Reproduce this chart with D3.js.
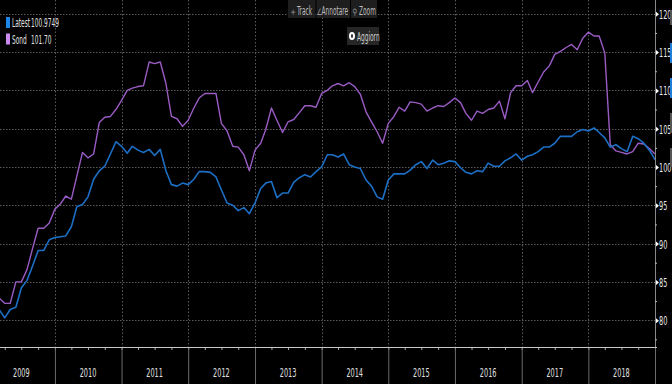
<!DOCTYPE html>
<html><head><meta charset="utf-8">
<script src="https://cdn.jsdelivr.net/npm/d3@7"></script>
<style>body{margin:0;background:#000;overflow:hidden}svg{display:block}</style>
</head><body><svg id="c" width="672" height="384"></svg>
<script>
// ---- data (monthly, Mar 2009 .. Jan 2019) ----
const startYear = 2009, startMonthIdx = 2; // March 2009
const latest = [
  81.4, 80.3, 81.4, 81.7, 84.2, 85.2, 87.1, 89.1, 89.1, 90.5,
  90.8, 90.9, 91.0, 92.2, 94.8, 95.1, 96.1, 98.4, 99.5, 100.1, 101.7, 103.3,
  102.7, 101.8, 102.7, 102.2, 101.9, 102.3, 101.5, 102.3, 99.5, 97.7, 97.5, 97.9,
  97.7, 98.4, 99.4, 99.4, 99.3, 98.7, 97.0, 95.3, 95.0, 94.3, 94.7, 93.9,
  95.3, 97.2, 97.9, 98.1, 96.0, 96.6, 96.6, 98.0, 98.6, 99.0, 98.7, 99.4,
  100.0, 101.6, 101.6, 101.3, 101.7, 100.3, 100.0, 99.8, 98.3, 97.5, 96.1, 95.8,
  98.3, 99.1, 99.1, 99.1, 99.6, 100.3, 100.7, 99.8, 100.9, 100.3, 100.5, 100.8,
  100.7, 99.9, 99.3, 99.1, 99.5, 99.4, 100.5, 100.1, 100.1, 100.8, 101.2, 101.7,
  100.9, 101.4, 101.6, 102.0, 102.6, 102.6, 103.1, 104.0, 104.0, 104.0, 104.6, 104.9,
  104.7, 105.1, 104.5, 103.8, 102.6, 102.9, 102.4, 102.0, 104.0, 103.7, 103.1, 102.2,
  100.97
];
const sond = [
  82.9, 82.2, 82.2, 85.0, 85.0, 86.6, 89.4, 92.0, 92.0, 92.7,
  94.5, 95.2, 96.2, 95.8, 98.8, 101.9, 101.2, 101.7, 105.8, 106.5, 106.6, 107.5,
  108.7, 110.0, 110.3, 110.5, 110.6, 113.7, 113.5, 113.7, 110.9, 106.6, 106.3, 105.3,
  106.1, 107.7, 109.0, 109.6, 109.6, 109.6, 105.7, 104.7, 102.7, 102.6, 101.6, 99.5,
  102.2, 103.1, 104.9, 107.7, 106.1, 104.5, 105.9, 106.2, 107.1, 108.0, 108.0, 107.8,
  109.6, 110.0, 110.6, 110.9, 110.6, 111.0, 110.5, 109.5, 107.2, 105.9, 104.6, 103.1,
  105.7, 106.6, 107.8, 107.3, 108.5, 108.4, 108.2, 107.3, 107.7, 108.0, 107.9, 108.4,
  109.0, 108.4, 107.0, 106.1, 107.3, 107.0, 107.5, 107.7, 108.6, 106.3, 109.7, 110.6,
  110.6, 111.3, 109.7, 111.1, 112.4, 113.2, 114.7, 115.1, 115.6, 116.0, 115.3, 116.8,
  117.6, 117.1, 117.1, 114.9, 102.9, 102.1, 101.9, 101.7, 102.0, 103.1, 103.0, 102.4,
  101.70
];
const yTicks = [80, 85, 90, 95, 100, 105, 110, 115, 120];
const yMinor = [77.5, 82.5, 87.5, 92.5, 97.5, 102.5, 107.5, 112.5, 117.5];
const years = [2009, 2010, 2011, 2012, 2013, 2014, 2015, 2016, 2017, 2018];
const legendItems = [
  {name: "Latest", value: "100.9749", color: "#1b86e6"},
  {name: "Sond", value: "101.70", color: "#c98af0"}
];
const toolbar = ["Track", "Annotare", "Zoom"];

// ---- layout ----
const W = 672, H = 384, plotR = 655, axisY = 347;
const FONT = "'Liberation Sans Narrow','DejaVu Sans Condensed',Arial,sans-serif";
const SX = 0.5;

const svg = d3.select("#c");
svg.append("rect").attr("width", W).attr("height", H).attr("fill", "#000");

const x = d3.scaleTime()
  .domain([new Date(2009, 0, 1), new Date(2019, 0, 1)])
  .range([-11.7, plotR]);
const y = d3.scaleLinear().domain([76.5, 121.8]).range([axisY, 0]);

const dates = latest.map((_, i) => new Date(startYear, startMonthIdx + i, 1));

// grid horizontal
svg.append("g").selectAll("line").data(yTicks).join("line")
  .attr("x1", 0).attr("x2", plotR)
  .attr("y1", d => Math.round(y(d)) + 0.5).attr("y2", d => Math.round(y(d)) + 0.5)
  .attr("stroke", "#5a5a5a").attr("stroke-width", 1).attr("stroke-dasharray", "1.5,1.5");

// grid vertical (year boundaries)
const yearStarts = years.slice(1).map(yr => new Date(yr, 0, 1));
svg.append("g").selectAll("line").data(yearStarts).join("line")
  .attr("x1", d => Math.round(x(d)) + 0.5).attr("x2", d => Math.round(x(d)) + 0.5)
  .attr("y1", 0).attr("y2", axisY)
  .attr("stroke", "#5a5a5a").attr("stroke-width", 1).attr("stroke-dasharray", "1.5,2");

// toolbar
const tb = [{icon: "+", x0: 288, x1: 315.5, tx: 297, ix: 290.5},
            {icon: "\u2220", x0: 316.5, x1: 350, tx: 321.5, ix: 316.5},
            {icon: "\u26B2", x0: 351, x1: 377, tx: 359, ix: 352.5}];
tb.forEach((d, i) => { d.t = toolbar[i]; });
const tbg = svg.append("g");
tbg.selectAll("rect").data(tb).join("rect")
  .attr("x", d => d.x0).attr("y", -2).attr("width", d => d.x1 - d.x0).attr("height", 20)
  .attr("fill", "#1e1e1e");
tbg.selectAll("text.t").data(tb).join("text").attr("class", "t")
  .attr("transform", d => `translate(${d.tx},15) scale(${SX},1)`)
  .attr("font-family", FONT).attr("font-size", 13).attr("fill", "#bdbdbd").text(d => d.t);
tbg.selectAll("text.i").data(tb).join("text").attr("class", "i")
  .attr("transform", d => `translate(${d.ix},15) scale(0.7,1)`)
  .attr("font-family", "DejaVu Sans").attr("font-size", 9).attr("fill", "#9a9a9a").text(d => d.icon);
// Aggiorn button
svg.append("rect").attr("x", 347).attr("y", 27).attr("width", 32).attr("height", 18).attr("fill", "#262626");
svg.append("ellipse").attr("cx", 352).attr("cy", 36).attr("rx", 2).attr("ry", 3)
  .attr("fill", "none").attr("stroke", "#fff").attr("stroke-width", 2);
svg.append("text").attr("transform", `translate(357,40.5) scale(${SX},1)`)
  .attr("font-family", FONT).attr("font-size", 13).attr("fill", "#d0d0d0").text("Aggiorn");

// lines
const line = d3.line().x((d, i) => x(dates[i])).y(d => y(d));
svg.append("path").datum(sond).attr("d", line)
  .attr("fill", "none").attr("stroke", "#9a5cc4").attr("stroke-width", 1.4).attr("stroke-linejoin", "round");
svg.append("path").datum(latest).attr("d", line)
  .attr("fill", "none").attr("stroke", "#1c6fc4").attr("stroke-width", 1.6).attr("stroke-linejoin", "round");

// legend
const lg = svg.append("g");
legendItems.forEach((d, i) => {
  const yy = 17 + i * 16.5;
  lg.append("rect").attr("x", 6).attr("y", yy).attr("width", 4).attr("height", 11).attr("fill", d.color);
  lg.append("text").attr("transform", `translate(12,${yy + 10}) scale(${SX},1)`)
    .attr("font-family", FONT).attr("font-size", 13).attr("fill", "#e0e0e0").text(d.name);
  lg.append("text").attr("transform", `translate(31,${yy + 10}) scale(${SX},1)`)
    .attr("font-family", FONT).attr("font-size", 13).attr("fill", "#e0e0e0").text(d.value);
});

// right axis
const ra = svg.append("g").attr("transform", `translate(${plotR},0)`);
ra.append("line").attr("x1", 0.5).attr("x2", 0.5).attr("y1", 0).attr("y2", H).attr("stroke", "#8a8a8a");
const minorAxis = d3.axisRight(y).tickValues(yMinor).tickSize(2).tickFormat("");
ra.append("g").call(minorAxis).call(g => {
  g.select(".domain").remove();
  g.selectAll("line").attr("stroke", "#bbb");
});
const majorAxis = d3.axisRight(y).tickValues(yTicks).tickSize(0).tickPadding(4).tickFormat(d3.format("d"));
ra.append("g").call(majorAxis).call(g => {
  g.select(".domain").remove();
  g.selectAll(".tick").append("path").attr("d", "M1,-2.5L4,0L1,2.5Z").attr("fill", "#fff");
  g.selectAll(".tick text")
    .attr("x", 0).attr("dy", null)
    .attr("transform", `translate(4,4.5) scale(0.56,1)`)
    .attr("font-family", FONT).attr("font-size", 13).attr("fill", "#e8e8e8").attr("text-anchor", "start");
});
// side markers at far right edge
const sideMarks = [{y0: 10, y1: 25, c: "#555"}, {y0: 43, y1: 63, c: "#1f7fd8"}, {y0: 78, y1: 98, c: "#1f7fd8"},
                   {y0: 113, y1: 133, c: "#555"}, {y0: 148, y1: 167, c: "#555"}];
svg.append("g").selectAll("rect").data(sideMarks).join("rect")
  .attr("x", 670).attr("y", d => d.y0).attr("width", 2).attr("height", d => d.y1 - d.y0).attr("fill", d => d.c);

// bottom axis
const ba = svg.append("g").attr("transform", `translate(0,${axisY})`);
const qAxis = d3.axisBottom(x).ticks(d3.timeMonth.every(3)).tickSize(3).tickFormat("");
ba.append("g").call(qAxis).call(g => {
  g.select(".domain").remove();
  g.selectAll("line").attr("stroke", "#aaa");
});
const yrAxis = d3.axisBottom(x).ticks(d3.timeYear.every(1)).tickSize(H - axisY).tickFormat("");
ba.append("g").call(yrAxis).call(g => {
  g.select(".domain").remove();
  g.selectAll("line").attr("stroke", "#6a6a6a");
});
ba.append("line").attr("x1", 0).attr("x2", plotR + 2).attr("y1", 0.5).attr("y2", 0.5)
  .attr("stroke", "#c8c8c8").attr("stroke-width", 1.2);
ba.selectAll("text.yr").data(years).join("text").attr("class", "yr")
  .attr("transform", d => `translate(${x(new Date(d, 6, 1))},${30}) scale(0.56,1)`)
  .attr("text-anchor", "middle")
  .attr("font-family", FONT).attr("font-size", 13).attr("fill", "#e0e0e0").text(d => d);
</script>
</body></html>
